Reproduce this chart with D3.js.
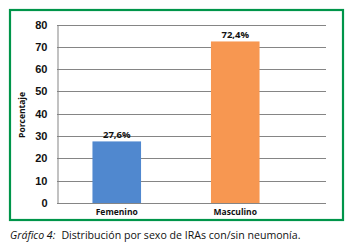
<!DOCTYPE html>
<html>
<head>
<meta charset="utf-8">
<script src="https://cdn.jsdelivr.net/npm/d3@7"></script>
<style>
  body { margin: 0; background: #fff; }
  svg { display: block; font-family: "Open Sans", "DejaVu Sans", sans-serif; }
</style>
</head>
<body>
<svg id="chart"></svg>
<script>
// chart data
const categories = ['Femenino', 'Masculino'];
const values = [27.6, 72.4];
const valueLabels = ['27,6%', '72,4%'];
const yTicks = [0, 10, 20, 30, 40, 50, 60, 70, 80];
const barColors = ['#5088cf', '#f79751'];

const W = 359, H = 244;
const svg = d3.select('#chart').attr('width', W).attr('height', H);

// green frame
svg.append('rect')
    .attr('x', 10).attr('y', 10)
    .attr('width', 333).attr('height', 210)
    .attr('fill', 'none')
    .attr('stroke', '#00954a')
    .attr('stroke-width', 2.2);

const plot = {left: 57, right: 326, top: 24.5, bottom: 203};

const y = d3.scaleLinear().domain([0, 80]).range([plot.bottom, plot.top]);
const x = d3.scaleBand().domain(categories)
    .range([57.5, 294.5])
    .paddingInner(0.59).paddingOuter(0.295);

// gridlines
svg.append('g')
  .selectAll('line')
  .data(yTicks)
  .join('line')
    .attr('x1', plot.left).attr('x2', plot.right)
    .attr('y1', d => Math.round(y(d)) + 0.5)
    .attr('y2', d => Math.round(y(d)) + 0.5)
    .attr('stroke', '#858585')
    .attr('stroke-width', 1);

// y axis
const yAxis = d3.axisLeft(y).tickValues(yTicks).tickSize(0).tickPadding(10);
svg.append('g')
    .attr('transform', `translate(${plot.left + 0.5},0)`)
    .call(yAxis)
    .call(g => g.select('.domain').attr('stroke', '#858585'))
    .call(g => g.selectAll('text')
        .attr('font-size', 11)
        .attr('font-weight', 'bold')
        .attr('fill', '#111'));

// bars
svg.append('g')
  .selectAll('rect')
  .data(categories)
  .join('rect')
    .attr('x', d => x(d))
    .attr('width', x.bandwidth())
    .attr('y', (d, i) => y(values[i]))
    .attr('height', (d, i) => plot.bottom - y(values[i]))
    .attr('fill', (d, i) => barColors[i]);

// value labels
svg.append('g')
  .selectAll('text')
  .data(categories)
  .join('text')
    .attr('x', d => x(d) + x.bandwidth() / 2)
    .attr('y', (d, i) => y(values[i]) - 3)
    .attr('text-anchor', 'middle')
    .attr('font-size', 9.5)
    .attr('font-weight', 'bold')
    .attr('fill', '#111')
    .text((d, i) => valueLabels[i]);

// category labels
svg.append('g')
  .selectAll('text')
  .data(categories)
  .join('text')
    .attr('x', d => x(d) + x.bandwidth() / 2)
    .attr('y', 214.5)
    .attr('text-anchor', 'middle')
    .attr('font-size', 8.5)
    .attr('font-weight', 'bold')
    .attr('fill', '#111')
    .text(d => d);

// y title
svg.append('text')
    .attr('transform', 'translate(25,115) rotate(-90)')
    .attr('text-anchor', 'middle')
    .attr('font-size', 8.5)
    .attr('font-weight', 'bold')
    .attr('fill', '#111')
    .text('Porcentaje');

// caption
const cap = svg.append('text')
    .attr('x', 10).attr('y', 239)
    .attr('font-size', 10.6)
    .attr('fill', '#111');
cap.append('tspan').attr('font-style', 'italic').text('Gráfico 4:');
cap.append('tspan').attr('dx', 6).text('Distribución por sexo de IRAs con/sin neumonía.');
</script>
</body>
</html>
